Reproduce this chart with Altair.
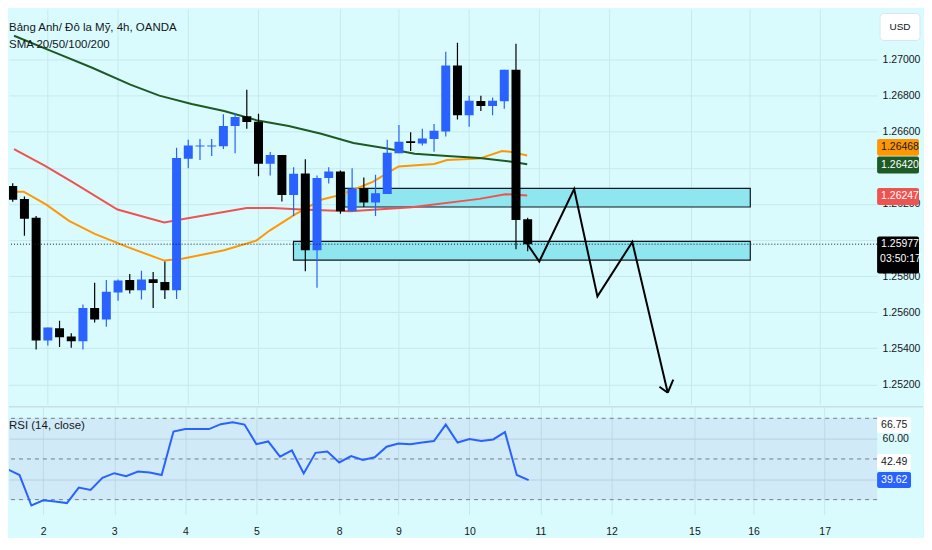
import json
import pandas as pd
import altair as alt

# ---------------- data ----------------
title_lines = ["Bảng Anh/ Đô la Mỹ, 4h, OANDA", "SMA 20/50/100/200"]
rsi_title = ["RSI (14, close)"]
unit_label = ["USD"]

bar_index = list(range(45))
opens = [1.26300, 1.26227, 1.26124, 1.25444, 1.25511, 1.25466, 1.25439, 1.25623, 1.25560, 1.25709,
         1.25778, 1.25722, 1.25783, 1.25767, 1.25722, 1.26451, 1.26518, 1.26518, 1.26520, 1.26632,
         1.26686, 1.26655, 1.26423, 1.26471, 1.26250, 1.26369, 1.25943, 1.26343, 1.26380, 1.26160,
         1.26286, 1.26208, 1.26255, 1.26481, 1.26547, 1.26535, 1.26560, 1.26601, 1.26967, 1.26691,
         1.26770, 1.26743, 1.26769, 1.26943, 1.26115]
highs = [1.26315, 1.26241, 1.26133, 1.25515, 1.25553, 1.25484, 1.25643, 1.25763, 1.25778, 1.25781,
         1.25812, 1.25830, 1.25823, 1.25881, 1.26511, 1.26556, 1.26560, 1.26560, 1.26697, 1.26704,
         1.26832, 1.26700, 1.26488, 1.26471, 1.26403, 1.26448, 1.26358, 1.26403, 1.26385, 1.26397,
         1.26346, 1.26362, 1.26556, 1.26637, 1.26597, 1.26616, 1.26643, 1.27043, 1.27093, 1.26800,
         1.26800, 1.26790, 1.26943, 1.27088, 1.26124]
lows = [1.26212, 1.26024, 1.25394, 1.25416, 1.25408, 1.25403, 1.25394, 1.25543, 1.25520, 1.25664,
        1.25704, 1.25670, 1.25623, 1.25673, 1.25673, 1.26397, 1.26444, 1.26466, 1.26505, 1.26481,
        1.26616, 1.26353, 1.26358, 1.26214, 1.26133, 1.25827, 1.25736, 1.26313, 1.26146, 1.26160,
        1.26183, 1.26133, 1.26255, 1.26481, 1.26493, 1.26524, 1.26489, 1.26574, 1.26668, 1.26628,
        1.26715, 1.26691, 1.26727, 1.25949, 1.25938]
closes = [1.26223, 1.26118, 1.25444, 1.25515, 1.25462, 1.25439, 1.25623, 1.25560, 1.25713, 1.25776,
          1.25722, 1.25781, 1.25762, 1.25722, 1.26454, 1.26524, 1.26524, 1.26524, 1.26632, 1.26682,
          1.26654, 1.26423, 1.26471, 1.26250, 1.26367, 1.25943, 1.26343, 1.26380, 1.26160, 1.26286,
          1.26208, 1.26259, 1.26484, 1.26545, 1.26538, 1.26563, 1.26605, 1.26967, 1.26691, 1.26772,
          1.26743, 1.26772, 1.26943, 1.26111, 1.25977]

rsi_values = [44.9, 42.1, 27.1, 29.7, 29.1, 28.3, 35.9, 34.8, 40.7, 43.0, 41.5, 43.8, 43.3, 42.1, 63.5,
              64.7, 64.7, 64.7, 67.1, 68.1, 66.9, 57.3, 58.6, 51.1, 54.2, 42.9, 53.0, 53.7, 48.3, 51.4,
              49.5, 50.8, 56.0, 57.6, 57.2, 58.1, 58.8, 66.9, 58.1, 59.8, 58.8, 59.6, 63.2, 42.1, 39.6]

sma200_x = [0.11, 3.42, 6.74, 10.05, 12.53, 15.29, 18.06, 20.82, 23.58, 26.35, 29.11, 31.86, 34.35,
            37.12, 39.88, 42.63, 43.96]
sma200_y = [1.27132, 1.27044, 1.26956, 1.26861, 1.26800, 1.26754, 1.26715, 1.26664, 1.26632, 1.26589,
            1.26538, 1.26508, 1.26478, 1.26466, 1.26454, 1.26434, 1.26420]
sma100_x = [0.11, 2.73, 5.08, 8.95, 12.95, 14.47, 19.99, 22.2, 24.69, 28.83, 34.08, 39.88, 42.09, 43.96]
sma100_y = [1.26504, 1.26412, 1.26322, 1.26169, 1.26097, 1.26115, 1.26178, 1.26178, 1.26169, 1.26160,
            1.26181, 1.26228, 1.26254, 1.26247]
sma50_x = [0.11, 0.94, 2.87, 4.81, 7.01, 9.78, 12.95, 14.47, 18.06, 20.82, 21.92, 24.13, 26.35, 28.0,
           30.76, 32.97, 36.0, 37.12, 39.88, 41.81, 42.63, 43.96]
sma50_y = [1.26268, 1.26268, 1.26196, 1.26106, 1.26034, 1.25962, 1.25886, 1.25896, 1.25943, 1.25997,
           1.26051, 1.26142, 1.26223, 1.26250, 1.26322, 1.26408, 1.26421, 1.26443, 1.26451, 1.26493,
           1.26488, 1.26468]

zone_x1 = [28.36, 23.99]
zone_x2 = [63.02, 63.02]
zone_top = [1.26286, 1.25993]
zone_bottom = [1.26183, 1.25889]

zig_x = [44.0, 44.99, 47.97, 49.96, 52.94, 55.97]
zig_y = [1.25975, 1.25881, 1.26282, 1.25688, 1.25989, 1.25154]
arrow_arm_x = [55.26, 56.44]
arrow_arm_y = [1.25187, 1.25227]

day_pos = [3, 9, 15, 21, 28, 33, 39, 45, 51, 58, 63, 69]
day_text = ["2", "3", "4", "5", "8", "9", "10", "11", "12", "15", "16", "17"]

price_ticks = [1.252, 1.254, 1.256, 1.258, 1.260, 1.262, 1.264, 1.266, 1.268, 1.270]
covered_ticks = [1.264, 1.260]   # labels fully hidden behind the price tags
rsi_levels = [70, 50, 30]
rsi_ticks = [40, 60]
covered_rsi_ticks = [40]

last_price = [1.25977]
countdown = ["03:50:17"]
tag_values = [1.26468, 1.26420, 1.26247]
tag_texts = ["1.26468", "1.26420", "1.26247"]
tag_fills = ["#ff9800", "#1e5a24", "#ef5350"]
tag_inks = ["#131722", "#ffffff", "#ffffff"]
tag_shift = [-8.2, 0.7, 1.0]

rsi_tag_values = [66.75, 42.49, 39.62]
rsi_tag_texts = ["66.75", "42.49", "39.62"]
rsi_tag_fills = ["#ffffff", "#ffffff", "#2962ff"]
rsi_tag_inks = ["#131722", "#131722", "#ffffff"]
rsi_tag_shift = [0, -12.2, 0]

# ---------------- styling ----------------
FONT = "Liberation Sans Narrow, Liberation Sans, Arial, sans-serif"
BG = "#dafbfd"
GRID = "#c6e9ed"
INK = "#131722"
BLUE = "#2962ff"
W, H1, H2 = 870, 396, 108

xs = alt.Scale(domain=[0.108, 73.43], nice=False, zero=False)
ys = alt.Scale(domain=[1.250876, 1.272768], nice=False, zero=False)
rs = alt.Scale(domain=[22.7, 75.7], nice=False, zero=False)

ylabel_expr = f"indexof({json.dumps(covered_ticks)}, datum.value) >= 0 ? '' : format(datum.value, '.5f')"
rlabel_expr = f"indexof({json.dumps(covered_rsi_ticks)}, datum.value) >= 0 ? '' : format(datum.value, '.2f')"
yaxis = alt.Axis(orient="right", values=price_ticks, labelExpr=ylabel_expr, grid=True, gridColor=GRID,
                 ticks=False, domain=False, labelPadding=5, labelFontSize=10.5, labelColor=INK,
                 labelFont=FONT, labelFlush=False, labelOverlap=False, title=None)
raxis = alt.Axis(orient="right", values=rsi_ticks, labelExpr=rlabel_expr, grid=True, gridColor="#c3dde8",
                 ticks=False, domain=False, labelPadding=5, labelFontSize=10.5, labelColor=INK,
                 labelFont=FONT, labelFlush=False, labelOverlap=False, title=None)
label_expr = f"{json.dumps(day_text)}[indexof({json.dumps(day_pos)}, datum.value)]"
xaxis = alt.Axis(values=day_pos, labelExpr=label_expr, grid=True, gridColor=GRID, ticks=False,
                 domain=False, labelPadding=12, labelFontSize=10.5, labelColor=INK, labelFont=FONT,
                 labelFlush=False, title=None)


def YM(f):
    return alt.Y(f, scale=ys, axis=yaxis)


def YR(f):
    return alt.Y(f, scale=rs, axis=raxis)


def XM(f):
    return alt.X(f, scale=xs, axis=None)


candles = pd.DataFrame({"i": bar_index, "open": opens, "high": highs, "low": lows, "close": closes})
days = pd.DataFrame({"d": day_pos})
zones = pd.DataFrame({"x1": zone_x1, "x2": zone_x2, "top": zone_top, "bot": zone_bottom})
one = pd.DataFrame({"v": last_price, "t": countdown})

col = alt.condition("datum.close >= datum.open", alt.value(BLUE), alt.value("#000000"))

layers = []
layers.append(alt.Chart(days).mark_rule(color=GRID, strokeWidth=1).encode(x=XM("d:Q")))
layers.append(alt.Chart(zones).mark_rect(fill="#8fe6ef", stroke=INK, strokeWidth=1.2).encode(
    x=XM("x1:Q"), x2="x2:Q", y=YM("top:Q"), y2="bot:Q"))
for xs_, ys_, c in [(sma100_x, sma100_y, "#ef5350"), (sma50_x, sma50_y, "#ff9800"),
                    (sma200_x, sma200_y, "#1e5a24")]:
    layers.append(alt.Chart(pd.DataFrame({"x": xs_, "y": ys_})).mark_line(
        color=c, strokeWidth=2, clip=True).encode(x=XM("x:Q"), y=YM("y:Q")))
layers.append(alt.Chart(candles).mark_rule(strokeWidth=1.2, clip=True).encode(
    x=XM("i:Q"), y=YM("low:Q"), y2="high:Q", color=col))
layers.append(alt.Chart(candles).mark_bar(size=9, clip=True).encode(
    x=XM("i:Q"), y=YM("open:Q"), y2="close:Q", color=col))
layers.append(alt.Chart(one).mark_rule(color=INK, strokeDash=[1, 2], strokeWidth=1).encode(y=YM("v:Q")))
zz = pd.DataFrame({"x": zig_x, "y": zig_y, "k": list(range(len(zig_x)))})
layers.append(alt.Chart(zz).mark_line(color="#000000", strokeWidth=2).encode(
    x=XM("x:Q"), y=YM("y:Q"), order="k:Q"))
arms = pd.DataFrame({"x": [zig_x[-1]] * 2, "y": [zig_y[-1]] * 2, "x2": arrow_arm_x, "y2": arrow_arm_y})
layers.append(alt.Chart(arms).mark_rule(color="#000000", strokeWidth=2).encode(
    x=XM("x:Q"), y=YM("y:Q"), x2="x2:Q", y2="y2:Q"))
for k, line in enumerate(title_lines):
    layers.append(alt.Chart(pd.DataFrame({"t": [line]})).mark_text(
        align="left", baseline="middle", font=FONT, fontSize=11.5, color=INK).encode(
        x=alt.value(0), y=alt.value(18 + 18 * k), text="t:N"))
# price scale unit box
usd = pd.DataFrame({"t": unit_label})
layers.append(alt.Chart(usd).mark_rect(fill="#ffffff", stroke="#e0e3eb", cornerRadius=4).encode(
    x=alt.value(W + 3), x2=alt.value(W + 43), y=alt.value(4), y2=alt.value(31)))
layers.append(alt.Chart(usd).mark_text(font=FONT, fontSize=10, color=INK, baseline="middle").encode(
    x=alt.value(W + 23), y=alt.value(17.5), text="t:N"))
# price tags
for v, t, f, ink, sh in zip(tag_values, tag_texts, tag_fills, tag_inks, tag_shift):
    d = pd.DataFrame({"v": [v], "t": [t]})
    layers.append(alt.Chart(d).mark_rect(fill=f, cornerRadius=2, yOffset=sh - 8.5, y2Offset=sh + 8.5).encode(
        x=alt.value(W), x2=alt.value(W + 42), y=YM("v:Q"), y2="v:Q"))
    layers.append(alt.Chart(d).mark_text(align="left", baseline="middle", font=FONT, fontSize=10.5,
                                         color=ink, yOffset=sh).encode(
        x=alt.value(W + 4), y=YM("v:Q"), text="t:N"))
# last price tag with countdown
layers.append(alt.Chart(one).mark_rect(fill="#000000", cornerRadius=2, yOffset=-7.8, y2Offset=29.5).encode(
    x=alt.value(W), x2=alt.value(W + 42), y=YM("v:Q"), y2="v:Q"))
layers.append(alt.Chart(one).mark_text(align="left", baseline="middle", font=FONT, fontSize=10.5,
                                       color="#ffffff").encode(
    x=alt.value(W + 4), y=YM("v:Q"), text=alt.Text("v:Q", format=".5f")))
layers.append(alt.Chart(one).mark_text(align="left", baseline="middle", font=FONT, fontSize=10.5,
                                       color="#ffffff", yOffset=15).encode(
    x=alt.value(W + 3), y=YM("v:Q"), text="t:N"))

main = alt.layer(*layers).properties(width=W, height=H1)

# ---------------- RSI panel ----------------
rsi = pd.DataFrame({"i": bar_index, "r": rsi_values})
band = pd.DataFrame({"hi": [rsi_levels[0]], "lo": [rsi_levels[-1]]})
lev = pd.DataFrame({"v": rsi_levels})
rl = []
rl.append(alt.Chart(band).mark_rect(fill="#7e57c2", opacity=0.1).encode(
    x=alt.value(0), x2=alt.value(W), y=YR("hi:Q"), y2="lo:Q"))
rl.append(alt.Chart(lev).mark_rule(color="#787b86", strokeDash=[4, 4], strokeWidth=1).encode(y=YR("v:Q")))
rl.append(alt.Chart(rsi).mark_line(color=BLUE, strokeWidth=2, clip=True).encode(
    x=alt.X("i:Q", scale=xs, axis=xaxis), y=YR("r:Q")))
rt = pd.DataFrame({"t": rsi_title})
rl.append(alt.Chart(rt).mark_text(align="left", baseline="middle", font=FONT, fontSize=11.5, color=INK).encode(
    x=alt.value(0), y=alt.value(19), text="t:N"))
rl.append(alt.Chart(rt).mark_rule(color="#c9dfe4", strokeWidth=1.5).encode(
    x=alt.value(0), x2=alt.value(W + 46), y=alt.value(0)))
for v, t, f, ink, sh in zip(rsi_tag_values, rsi_tag_texts, rsi_tag_fills, rsi_tag_inks, rsi_tag_shift):
    d = pd.DataFrame({"v": [v], "t": [t]})
    rl.append(alt.Chart(d).mark_rect(fill=f, cornerRadius=2, yOffset=sh - 8, y2Offset=sh + 8).encode(
        x=alt.value(W), x2=alt.value(W + 34), y=YR("v:Q"), y2="v:Q"))
    rl.append(alt.Chart(d).mark_text(align="left", baseline="middle", font=FONT, fontSize=10.5,
                                     color=ink, yOffset=sh).encode(
        x=alt.value(W + 4), y=YR("v:Q"), text="t:N"))

rsi_panel = alt.layer(*rl).properties(width=W, height=H2)

chart = alt.vconcat(main, rsi_panel, spacing=0, padding=0, background=BG).configure_view(
    stroke=None).configure_axis(labelFont=FONT)

chart.save("out.html", embed_options={"renderer": "svg", "actions": False})
